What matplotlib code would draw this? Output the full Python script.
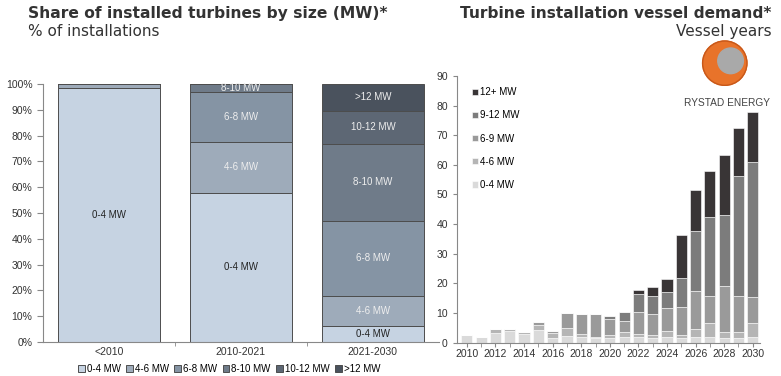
import numpy as np
import matplotlib
matplotlib.use("Agg")
import matplotlib.pyplot as plt
from matplotlib.patches import Circle

# ---- data: share of installed turbines by size (left) ----
periods = ["<2010", "2010-2021", "2021-2030"]
size_classes = ["0-4 MW", "4-6 MW", "6-8 MW", "8-10 MW", "10-12 MW", ">12 MW"]
share_0_4 = [98.6, 57.7, 6.1]
share_4_6 = [1.4, 20.0, 11.8]
share_6_8 = [0.0, 19.2, 29.1]
share_8_10 = [0.0, 3.1, 29.8]
share_10_12 = [0.0, 0.0, 12.9]
share_12p = [0.0, 0.0, 10.3]

# ---- data: vessel demand (right), vessel years ----
years = list(range(2010, 2031))
vd_0_4 = [2.4, 1.9, 3.3, 3.8, 2.8, 4.1, 1.7, 2.2, 2.0, 1.5, 1.5,
          1.8, 1.8, 1.6, 2.0, 1.5, 2.0, 1.8, 1.5, 1.5, 1.8]
vd_4_6 = [0.0, 0.0, 1.4, 0.9, 0.6, 1.9, 1.5, 2.6, 1.0, 0.5, 1.0,
          1.6, 1.1, 1.0, 1.9, 1.0, 2.5, 4.7, 1.9, 1.9, 4.9]
vd_6_9 = [0.0, 0.0, 0.0, 0.0, 0.0, 0.9, 0.7, 5.3, 6.7, 7.8, 5.6,
          4.0, 7.3, 7.1, 7.9, 9.4, 12.9, 9.2, 15.7, 12.3, 8.6]
vd_9_12 = [0.0, 0.0, 0.0, 0.0, 0.0, 0.0, 0.0, 0.0, 0.0, 0.0, 1.0,
           2.8, 6.2, 6.0, 5.4, 10.0, 20.4, 26.6, 23.8, 40.5, 45.6]
vd_12p = [0.0, 0.0, 0.0, 0.0, 0.0, 0.0, 0.0, 0.0, 0.0, 0.0, 0.0,
          0.0, 1.4, 3.2, 4.3, 14.5, 13.6, 15.6, 20.5, 16.1, 16.8]
vd_labels = ["0-4 MW", "4-6 MW", "6-9 MW", "9-12 MW", "12+ MW"]

plt.rcParams["font.family"] = ["Liberation Sans", "DejaVu Sans"]

fig = plt.figure(figsize=(7.81, 3.76), dpi=100)
fig.patch.set_facecolor("white")

# ---------------- left panel ----------------
ax1 = fig.add_axes([0.055, 0.091, 0.507, 0.685])
left_colors = ["#c6d3e2", "#9eabba", "#8594a4", "#6f7b89", "#5d6774", "#4a525d"]
left_text = ["#222222", "#eeeeee", "#eeeeee", "#eeeeee", "#eeeeee", "#eeeeee"]
shares = [share_0_4, share_4_6, share_6_8, share_8_10, share_10_12, share_12p]
x = np.arange(len(periods))
bottom = np.zeros(len(periods))
for vals, col, tcol, lab in zip(shares, left_colors, left_text, size_classes):
    vals = np.array(vals) / 100.0
    ax1.bar(x, vals, 0.77, bottom=bottom, color=col, edgecolor="#4d4d4d",
            linewidth=0.7, label=lab)
    for i, v in enumerate(vals):
        if v >= 0.025:
            ax1.text(x[i], bottom[i] + v / 2, lab, ha="center", va="center",
                     fontsize=7, color=tcol)
    bottom += vals

ax1.set_xlim(-0.5, 2.5)
ax1.set_ylim(0, 1.0)
ax1.set_yticks(np.arange(0, 1.01, 0.1))
ax1.set_yticklabels([f"{int(round(t * 100))}%" for t in np.arange(0, 1.01, 0.1)])
ax1.set_xticks(x)
ax1.set_xticklabels(periods)
ax1.set_xticks([0.5, 1.5], minor=True)
ax1.tick_params(axis="x", which="major", length=0, labelsize=7.5, pad=4, colors="#333333")
ax1.tick_params(axis="x", which="minor", length=3, color="#888888")
ax1.tick_params(axis="y", length=4, labelsize=7.5, colors="#333333", color="#888888")
for s in ["top", "right"]:
    ax1.spines[s].set_visible(False)
for s in ["left", "bottom"]:
    ax1.spines[s].set_color("#888888")
    ax1.spines[s].set_linewidth(0.8)
ax1.legend(loc="upper center", bbox_to_anchor=(0.47, -0.07), ncol=6, fontsize=7,
           frameon=False, handlelength=0.7, handleheight=0.7, handletextpad=0.2,
           columnspacing=0.55, borderaxespad=0)

# ---------------- right panel ----------------
ax2 = fig.add_axes([0.585, 0.089, 0.388, 0.709])
right_colors = ["#dadada", "#b5b5b5", "#9a9a9a", "#7c7c7c", "#393536"]
series = [vd_0_4, vd_4_6, vd_6_9, vd_9_12, vd_12p]
bottom = np.zeros(len(years))
handles = []
for vals, col, lab in zip(series, right_colors, vd_labels):
    vals = np.array(vals)
    h = ax2.bar(years, vals, 0.78, bottom=bottom, color=col, edgecolor="white",
                linewidth=0.4, label=lab)
    handles.append(h)
    bottom += vals

ax2.set_xlim(2009.3, 2030.5)
ax2.set_ylim(0, 90)
ax2.set_yticks(range(0, 91, 10))
ax2.set_xticks(range(2010, 2031, 2))
ax2.set_xticks(range(2011, 2031, 2), minor=True)
ax2.tick_params(axis="x", which="both", length=3, labelsize=7.5, colors="#333333",
                color="#888888", pad=2)
ax2.tick_params(axis="y", length=3, labelsize=7.5, colors="#333333", color="#888888")
for s in ["top", "right"]:
    ax2.spines[s].set_visible(False)
for s in ["left", "bottom"]:
    ax2.spines[s].set_color("#888888")
    ax2.spines[s].set_linewidth(0.8)
ax2.legend(handles[::-1], vd_labels[::-1], loc="upper left",
           bbox_to_anchor=(0.02, 0.99), fontsize=7, frameon=False,
           handlelength=0.6, handleheight=0.6, handletextpad=0.3,
           labelspacing=1.35)

# ---------------- titles ----------------
fig.text(0.036, 0.965, "Share of installed turbines by size (MW)*", fontsize=11.2,
         fontweight="bold", family="DejaVu Sans", color="#333333", va="center")
fig.text(0.036, 0.915, "% of installations", fontsize=11, family="DejaVu Sans",
         color="#333333", va="center")
fig.text(0.988, 0.965, "Turbine installation vessel demand*", fontsize=11.1,
         fontweight="bold", family="DejaVu Sans", color="#333333", va="center",
         ha="right")
fig.text(0.988, 0.915, "Vessel years", fontsize=11, family="DejaVu Sans",
         color="#333333", va="center", ha="right")

# logo
logo = fig.add_axes([0.898, 0.77, 0.06, 0.124])
logo.set_xlim(-1, 1)
logo.set_ylim(-1, 1)
logo.set_aspect("equal")
logo.axis("off")
logo.add_patch(Circle((0, 0), 0.95, color="#e8732a"))
logo.add_patch(Circle((0.25, 0.1), 0.55, color="#a9a9a9"))
logo.add_patch(Circle((0, 0), 0.95, fill=False, ec="#c8581a", lw=1))
fig.text(0.931, 0.726, "RYSTAD ENERGY", fontsize=7.3, ha="center", va="center",
         color="#444444")

fig.savefig("out.png", dpi=100, facecolor="white")
